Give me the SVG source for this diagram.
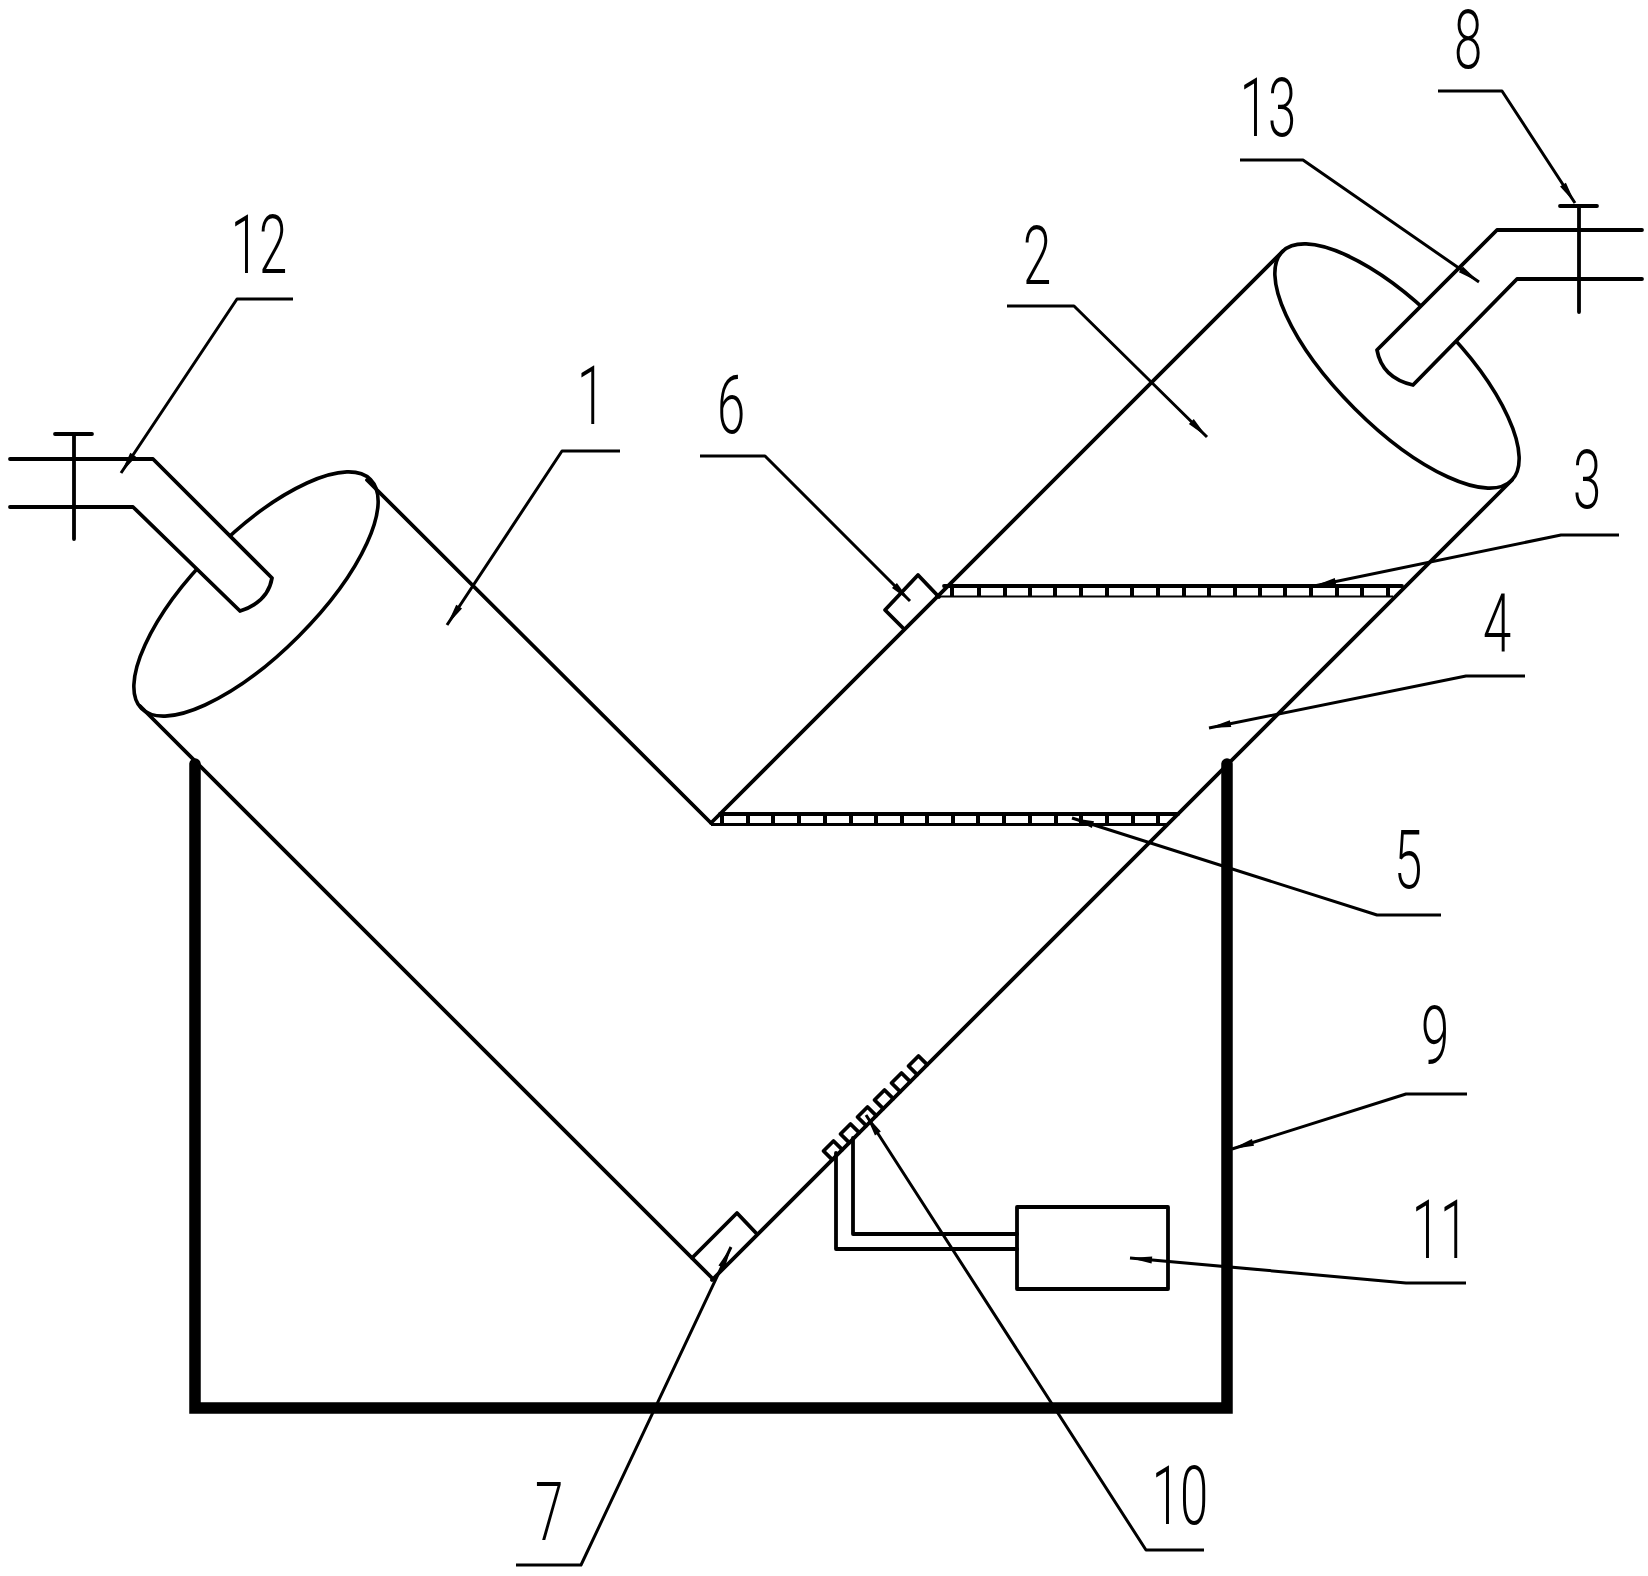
<svg xmlns="http://www.w3.org/2000/svg" width="1648" height="1576" viewBox="0 0 1648 1576">
<style>
.l{fill:none;stroke:#000;stroke-width:3.8;stroke-linecap:round;stroke-linejoin:round}
.w{fill:#fff;stroke:none}
.e{fill:none;stroke:#000;stroke-width:3.6}
.tk{fill:none;stroke:#000;stroke-width:11.500;stroke-linecap:round;stroke-linejoin:miter}
.ld{fill:none;stroke:#000;stroke-width:3;stroke-linejoin:round;marker-end:url(#a)}
.tick{fill:none;stroke:#000;stroke-width:4}
.t{font-family:"Roboto","Liberation Sans",sans-serif;font-weight:300;font-size:82px;text-anchor:middle;fill:#000}
</style>
<defs>
<marker id="a" markerUnits="userSpaceOnUse" markerWidth="26" markerHeight="10" refX="22" refY="5" orient="auto" overflow="visible"><path d="M0 1.500L22 5L0 8.500Z" fill="#000"/></marker>
</defs>
<g id="cylinder-1">
<ellipse class="e" cx="256" cy="594" rx="162" ry="60" transform="rotate(-45 256 594)"/>
<path class="l" d="M367 480L711 823M140 706L712 1278"/>
</g>
<g id="cylinder-2">
<ellipse class="e" cx="1397" cy="366" rx="162" ry="60" transform="rotate(45 1397 366)"/>
<path class="l" d="M1283 251L711 823M1512 480L712 1280"/>
</g>
<g id="tank">
<path class="tk" d="M195 764V1408H1227V764"/>
</g>
<g id="pipe-12">
<path class="w" d="M153 459L272 578Q268 605 240 611L133 507Z"/>
<path class="l" d="M10 459H153L272 578Q268 602 240 611L133 507H10"/>
<path class="l" d="M55 434H92M74 434V539"/>
</g>
<g id="pipe-8">
<path class="w" d="M1497 230L1377 350Q1382 378 1413 385L1517 279Z"/>
<path class="l" d="M1642 230H1497L1377 350Q1382 378 1413 385L1517 279H1642"/>
<path class="l" d="M1560 206H1597M1579 206V312"/>
</g>
<g id="plate-3">
<path class="l" d="M944 586H1402"/>
<path d="M935 596.500H1393" fill="none" stroke="#000" stroke-width="2"/>
<path class="tick" d="M952 586V597M979 586V597M1005 586V597M1030 586V597M1055 586V597M1081 586V597M1107 586V597M1132 586V597M1158 586V597M1184 586V597M1209 586V597M1235 586V597M1260 586V597M1285 586V597M1311 586V597M1337 586V597M1362 586V597M1388 586V597"/>
</g>
<g id="plate-5">
<path class="l" d="M720 814H1178"/>
<path d="M711 824.500H1168" fill="none" stroke="#000" stroke-width="3"/>
<path class="tick" d="M722 814V824M748 814V824M773 814V824M799 814V824M825 814V824M851 814V824M876 814V824M902 814V824M927 814V824M953 814V824M978 814V824M1004 814V824M1030 814V824M1056 814V824M1081 814V824M1107 814V824M1133 814V824M1158 814V824"/>
</g>
<g id="sensor-6"><path class="l" d="M904 629L885 610L918 575L939 597"/></g>
<g id="sensor-7"><path class="l" d="M692 1258L737 1213L756 1233"/></g>
<g id="elements-10">
<path class="l" d="M832.200 1159.700L823.500 1151L833.500 1141L842.200 1149.700M849.200 1142.700L840.500 1134L850.500 1124L859.200 1132.700M866.200 1125.700L857.500 1117L867.500 1107L876.200 1115.700M883.200 1108.700L874.500 1100L884.500 1090L893.200 1098.700M900.200 1091.700L891.500 1083L901.500 1073L910.200 1081.700M917.200 1074.700L908.500 1066L918.500 1056L927.200 1064.700"/>
</g>
<g id="controller-11">
<rect class="l" x="1017" y="1207" width="151" height="82"/>
<path class="l" d="M836 1153V1249H1017M853 1138V1234H1017"/>
</g>
<g id="connectors">
<path class="ld" d="M293 299H237L121 473"/>
<path class="ld" d="M1240 160H1303L1479 282"/>
<path class="ld" d="M1438 91H1502L1575 203"/>
<path class="ld" d="M620 451H562L447 625"/>
<path class="ld" d="M700 456H765L910 601"/>
<path class="ld" d="M1007 306H1074L1207 437"/>
<path class="ld" d="M1619 535H1561L1314 586"/>
<path class="ld" d="M1525 676H1466L1209 728"/>
<path class="ld" d="M1441 915H1377L1072 818"/>
<path class="ld" d="M1467 1094H1406L1232 1149"/>
<path class="ld" d="M1466 1283H1406L1130 1258"/>
<path class="ld" d="M1204 1550H1146L866 1115"/>
<path class="ld" d="M516 1565H581L731 1247"/>
</g>
<g id="labels">
<text class="t" transform="translate(259 273) scale(.62 1)">12</text>
<text class="t" transform="translate(1268 136) scale(.62 1)">13</text>
<text class="t" transform="translate(1468 68) scale(.62 1)">8</text>
<text class="t" transform="translate(591 424) scale(.62 1)">1</text>
<text class="t" transform="translate(731 433) scale(.62 1)">6</text>
<text class="t" transform="translate(1037 284) scale(.62 1)">2</text>
<text class="t" transform="translate(1587 508) scale(.62 1)">3</text>
<text class="t" transform="translate(1497 652) scale(.62 1)">4</text>
<text class="t" transform="translate(1408 888) scale(.62 1)">5</text>
<text class="t" transform="translate(1435 1064) scale(.62 1)">9</text>
<text class="t" transform="translate(1440 1258) scale(.62 1)">11</text>
<text class="t" transform="translate(1180 1524) scale(.62 1)">10</text>
<text class="t" transform="translate(549 1540) scale(.62 1)">7</text>
</g>
</svg>
